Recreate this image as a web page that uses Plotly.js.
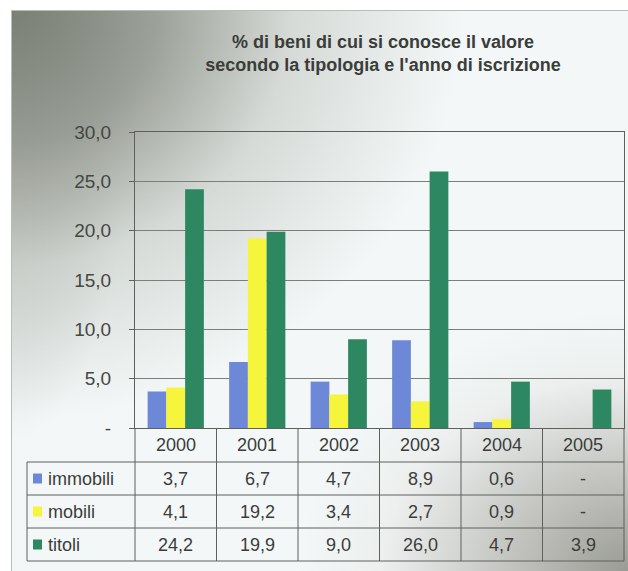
<!DOCTYPE html>
<html>
<head>
<meta charset="utf-8">
<script src="https://cdn.plot.ly/plotly-3.0.1.min.js"></script>
<style>
  html, body { margin: 0; padding: 0; background: #ffffff; }
  #wrap { position: relative; width: 628px; height: 571px; overflow: hidden; }
  #bg {
    position: absolute; left: 11px; top: 10px; width: 617px; height: 561px;
    border-top: 1px solid #b9bdb8; border-left: 1px solid #b9bdb8;
    background:
      radial-gradient(ellipse 450px 410px at 0% 0%, rgba(122,128,118,1) 0%, rgba(146,151,142,0.9) 32%, rgba(188,192,185,0.52) 62%, rgba(235,238,235,0) 100%),
      radial-gradient(ellipse 130px 430px at 0% 0%, rgba(135,140,132,0.6) 0%, rgba(170,174,168,0.35) 60%, rgba(255,255,255,0) 100%),
      radial-gradient(ellipse 330px 260px at 100% 100%, rgba(150,150,143,0.95) 0%, rgba(175,175,169,0.65) 40%, rgba(215,216,212,0.25) 75%, rgba(255,255,255,0) 100%),
      #f3f7f7;
  }
  #chart { position: absolute; left: 0; top: 0; width: 628px; height: 571px; }
</style>
</head>
<body>
<div id="wrap">
  <div id="bg"></div>
  <div id="chart"></div>
</div>
<script>
// ---- data ----
const years = ['2000', '2001', '2002', '2003', '2004', '2005'];
const immobili = [3.7, 6.7, 4.7, 8.9, 0.6, null];
const mobili = [4.1, 19.2, 3.4, 2.7, 0.9, null];
const titoli = [24.2, 19.9, 9.0, 26.0, 4.7, 3.9];
const seriesNames = ['immobili', 'mobili', 'titoli'];
const yTickVals = [0, 5, 10, 15, 20, 25, 30];
const yTickText = ['-', '5,0', '10,0', '15,0', '20,0', '25,0', '30,0'];
const titleText = "% di beni di cui si conosce il valore<br>secondo la tipologia e l'anno di iscrizione";

// ---- styles ----
const seriesValues = [immobili, mobili, titoli];
const colors = ['#6d88d6', '#f7f43c', '#2d8862'];
const FONT = 'Liberation Sans, Arial, sans-serif';
const TXT = '#3b3d3a';
const LINE = '#5e605c';

const W = 628, H = 571;
const M = { l: 135, r: 4, t: 132, b: 143 };
const plotH = H - M.t - M.b;
const plotW = W - M.l - M.r;
const py = p => (H - M.b - p) / plotH;       // pixel y -> paper y
const px = p => (p - M.l) / plotW;           // pixel x -> paper x

const rowLines = [462, 495, 528, 561];
const headerCenter = 445;
const rowCenters = [478.5, 511.5, 544.5];
const tableLeft = 27;

function fmt(v) {
  return (v === null || v === undefined) ? '-' : v.toFixed(1).replace('.', ',');
}

const traces = seriesNames.map((name, i) => ({
  type: 'bar',
  name: name,
  x: years,
  y: seriesValues[i],
  marker: { color: colors[i], line: { width: 0 } },
  hoverinfo: 'x+y+name'
}));

const shapes = [];
const annotations = [];
const lineStyle = { color: LINE, width: 1 };

// horizontal table lines
rowLines.forEach(r => {
  shapes.push({ type: 'line', xref: 'paper', yref: 'paper', x0: px(tableLeft), x1: 1, y0: py(r), y1: py(r), line: lineStyle });
});
// left border of label column
shapes.push({ type: 'line', xref: 'paper', yref: 'paper', x0: px(tableLeft), x1: px(tableLeft), y0: py(rowLines[0]), y1: py(rowLines[3]), line: lineStyle });
// category boundaries from axis down through table
for (let i = 0; i <= years.length; i++) {
  const xp = i / years.length;
  shapes.push({ type: 'line', xref: 'paper', yref: 'paper', x0: xp, x1: xp, y0: 0, y1: py(rowLines[3]), line: lineStyle });
}

// header row (years) - category index positions on the x axis
years.forEach((yr, i) => {
  annotations.push({ xref: 'x', yref: 'paper', x: i, y: py(headerCenter), text: yr, showarrow: false,
    xanchor: 'center', yanchor: 'middle', font: { family: FONT, size: 18, color: TXT } });
});
// data rows
seriesNames.forEach((name, s) => {
  const yc = py(rowCenters[s]);
  shapes.push({ type: 'rect', xref: 'paper', yref: 'paper', x0: px(33), x1: px(42), y0: py(rowCenters[s] + 5), y1: py(rowCenters[s] - 5),
    fillcolor: colors[s], line: { width: 0 } });
  annotations.push({ xref: 'paper', yref: 'paper', x: px(46), y: yc, text: name, showarrow: false,
    xanchor: 'left', yanchor: 'middle', font: { family: FONT, size: 18, color: TXT } });
  years.forEach((yr, i) => {
    annotations.push({ xref: 'x', yref: 'paper', x: i, y: yc, text: fmt(seriesValues[s][i]), showarrow: false,
      xanchor: 'center', yanchor: 'middle', font: { family: FONT, size: 18, color: TXT } });
  });
});

const layout = {
  width: W, height: H,
  margin: M,
  paper_bgcolor: 'rgba(0,0,0,0)',
  plot_bgcolor: 'rgba(0,0,0,0)',
  showlegend: false,
  barmode: 'group',
  bargap: 0.31,
  bargroupgap: 0,
  title: {
    text: titleText,
    x: 383 / W, xref: 'container', xanchor: 'center',
    y: 1 - 48 / H, yref: 'container', yanchor: 'top',
    font: { family: FONT, size: 18, color: '#3a3d39', weight: 'bold' }
  },
  xaxis: {
    type: 'category',
    range: [-0.5, years.length - 0.5],
    showticklabels: false,
    ticks: '',
    showgrid: false,
    showline: true, linecolor: LINE, linewidth: 1, mirror: true,
    zeroline: false,
    fixedrange: true
  },
  yaxis: {
    range: [0, 30],
    tickvals: yTickVals,
    ticktext: yTickText,
    ticks: 'outside', ticklen: 5, tickcolor: LINE, tickwidth: 1,
    ticklabelstandoff: 14,
    tickfont: { family: FONT, size: 19, color: '#454744' },
    showgrid: true, gridcolor: '#7c7e7a', gridwidth: 1,
    showline: true, linecolor: LINE, linewidth: 1, mirror: true,
    zeroline: false,
    fixedrange: true
  },
  shapes: shapes,
  annotations: annotations,
  font: { family: FONT, color: TXT }
};

Plotly.newPlot('chart', traces, layout, { displayModeBar: false, staticPlot: true });
</script>
</body>
</html>
